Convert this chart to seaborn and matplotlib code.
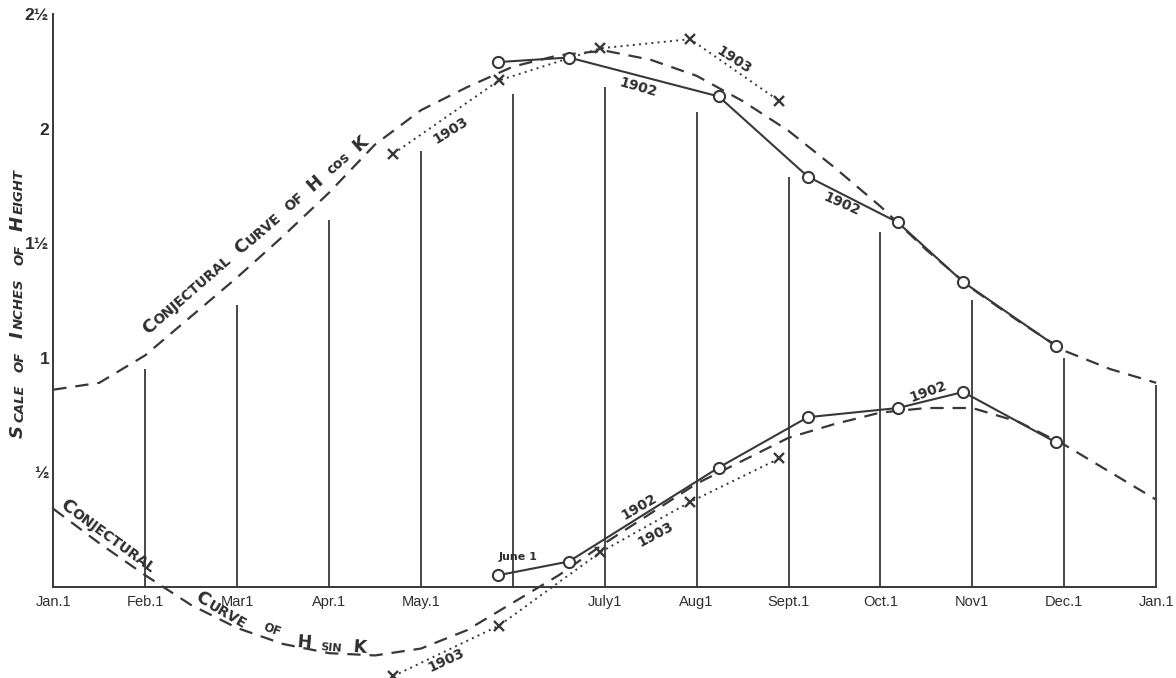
import numpy as np
import pandas as pd
import matplotlib
matplotlib.use("Agg")
import matplotlib.pyplot as plt
import seaborn as sns
from matplotlib.transforms import offset_copy

# ---- month axis -------------------------------------------------------
month_pos = list(range(13))
month_labels = ["Jan.1", "Feb.1", "Mar1", "Apr.1", "May.1", "", "July1",
                "Aug1", "Sept.1", "Oct.1", "Nov1", "Dec.1", "Jan.1"]
# heights of the ruled month verticals (Feb.1 ... following Jan.1)
rule_pos = list(range(1, 13))
rule_tops = [0.95, 1.23, 1.60, 1.90, 2.15, 2.18, 2.07, 1.79, 1.55, 1.25, 1.00, 0.88]

# ---- conjectural curves, read every half month -----------------------
curve_t = [i / 2 for i in range(25)]
h_cos_k = [0.86, 0.89, 1.01, 1.18, 1.35, 1.53, 1.72, 1.93, 2.08, 2.18, 2.27, 2.32,
           2.34, 2.30, 2.23, 2.12, 1.99, 1.83, 1.66, 1.47, 1.30, 1.16, 1.03, 0.95, 0.89]
h_sin_k = [0.34, 0.19, 0.05, -0.08, -0.18, -0.25, -0.29, -0.30, -0.27, -0.19, -0.07, 0.05,
           0.19, 0.32, 0.45, 0.55, 0.65, 0.71, 0.76, 0.78, 0.78, 0.72, 0.62, 0.50, 0.38]

# ---- observed values ---------------------------------------------------
obs_1902_t = [4.84, 5.61, 7.24, 8.21, 9.19, 9.90, 10.91]
cos_1902 = [2.29, 2.31, 2.14, 1.79, 1.59, 1.33, 1.05]
sin_1902 = [0.05, 0.11, 0.52, 0.74, 0.78, 0.85, 0.63]

obs_1903_t = [3.70, 4.85, 5.95, 6.93, 7.90]
cos_1903 = [1.89, 2.21, 2.35, 2.39, 2.12]
sin_1903 = [-0.39, -0.17, 0.15, 0.37, 0.56]

y_ticks = [0.5, 1.0, 1.5, 2.0, 2.5]
y_ticklabels = ["½", "1", "1½", "2", "2½"]

INK = "#383838"
TEXT = "#2e2e2e"

sns.set_theme(style="white")
plt.rcParams["font.family"] = ["DejaVu Sans"]

fig = plt.figure(figsize=(11.76, 6.78), dpi=100)
ax = fig.add_axes([0, 0, 1, 1])
ax.set_xlim(-0.58, 12.216)
ax.set_ylim(-0.3985, 2.561)

# month verticals
ax.vlines(rule_pos, 0, rule_tops, color=INK, lw=1.3, zorder=1)

# conjectural curves (long dashes)
curves = pd.DataFrame({"t": curve_t, "cos": h_cos_k, "sin": h_sin_k})
for col in ["cos", "sin"]:
    sns.lineplot(data=curves, x="t", y=col, ax=ax, color=INK, lw=1.6,
                 linestyle=(0, (6, 4)), sort=False, estimator=None, zorder=2)

# 1902: solid with open circles
d1902 = pd.DataFrame({"t": obs_1902_t, "cos": cos_1902, "sin": sin_1902})
for col in ["cos", "sin"]:
    sns.lineplot(data=d1902, x="t", y=col, ax=ax, color=INK, lw=1.5,
                 marker="o", markersize=8, markerfacecolor="white",
                 markeredgecolor=INK, markeredgewidth=1.5,
                 sort=False, estimator=None, zorder=4)

# 1903: dotted with crosses
d1903 = pd.DataFrame({"t": obs_1903_t, "cos": cos_1903, "sin": sin_1903})
for col in ["cos", "sin"]:
    sns.lineplot(data=d1903, x="t", y=col, ax=ax, color=INK, lw=1.4,
                 linestyle=(0, (1, 2.2)), marker="x", markersize=6.5,
                 markeredgewidth=1.7, markeredgecolor=INK,
                 sort=False, estimator=None, zorder=3)

# axes frame: spines meet at Jan.1 / zero
for side in ["top", "right"]:
    ax.spines[side].set_visible(False)
ax.spines["left"].set_position(("data", 0))
ax.spines["bottom"].set_position(("data", 0))
ax.spines["left"].set_bounds(0, 2.5)
ax.spines["bottom"].set_bounds(0, 12)
for side in ["left", "bottom"]:
    ax.spines[side].set_color(INK)
    ax.spines[side].set_linewidth(1.4)

ax.set_xticks(month_pos, month_labels)
ax.set_yticks(y_ticks, y_ticklabels)
ax.tick_params(axis="x", length=0, pad=6, labelsize=10.5, labelcolor=TEXT)
ax.tick_params(axis="y", direction="in", length=4, width=1.2, color=INK,
               pad=3, labelsize=12.5, labelcolor=TEXT)
for lab in ax.get_yticklabels():
    lab.set_fontweight("bold")
    lab.set_family("Liberation Sans")
for lab in ax.get_xticklabels():
    lab.set_family("Liberation Sans")
ax.set_xlabel("")
ax.set_ylabel("")

# year labels along the traces
year_labels = [
    ("1903", 4.32, 1.99, 32), ("1903", 7.40, 2.30, -33),
    ("1902", 6.36, 2.18, -16), ("1902", 8.58, 1.67, -24),
    ("1902", 9.52, 0.85, 20), ("1902", 6.38, 0.35, 30),
    ("1903", 6.55, 0.23, 28), ("1903", 4.28, -0.32, 25),
]
for s, x, y, r in year_labels:
    ax.text(x, y, s, rotation=r, rotation_mode="anchor", ha="center",
            va="center", fontsize=10, fontweight="bold", color=TEXT, zorder=5)
ax.text(5.06, 0.13, "June 1", ha="center", va="center", fontsize=8,
        fontweight="bold", color=TEXT)


# small-capital lettering laid out along a direction
fig.canvas.draw()
renderer = fig.canvas.get_renderer()


def small_caps(pieces, big, small):
    out = []
    for w_i, word in enumerate(pieces.split(" ")):
        if w_i:
            out.append((" ", big))
        if word.startswith("~"):
            out.append((word[1:], small))
            continue
        i = 0
        while i < len(word):
            j = i
            if word[i].isupper():
                out.append((word[i], big))
                i += 1
                continue
            while j < len(word) and not word[j].isupper():
                j += 1
            out.append((word[i:j].upper(), small))
            i = j
    return out


def lay_text(x, y, pieces, angle, transform, weight="bold", style="normal",
             family="DejaVu Sans", track=1.0, gap=0.42):
    rad = np.deg2rad(angle)
    dist = 0.0
    for s, size in pieces:
        if s == " ":
            dist += size * gap * fig.dpi / 72
            continue
        tr = offset_copy(transform, fig=fig, x=dist * np.cos(rad),
                         y=dist * np.sin(rad), units="dots")
        ax.text(x, y, s, transform=tr, rotation=angle, rotation_mode="anchor",
                ha="left", va="baseline", fontsize=size, fontweight=weight,
                fontstyle=style, family=family, color=TEXT, zorder=5)
        probe = ax.text(0, 0, s, fontsize=size, fontweight=weight,
                        fontstyle=style, family=family)
        dist += probe.get_window_extent(renderer).width + track
        probe.remove()


lay_text(0.0196, 0.354, small_caps("Scale of Inches of Height", 13, 9.5), 90,
         ax.transAxes, style="italic", track=2.5, gap=0.6)
lay_text(1.03, 1.10, small_caps("Conjectural Curve of H ~cos K", 13, 9.8), 41,
         ax.transData, track=1.0, gap=0.5)
lay_text(0.06, 0.35, small_caps("Conjectural", 13, 10), -36,
         ax.transData, track=1.2)
lay_text(1.53, -0.06, small_caps("Curve", 13, 10), -30,
         ax.transData, track=1.2)
lay_text(2.28, -0.19, small_caps("of", 12, 8.5), -20,
         ax.transData, track=1.0)
lay_text(2.64, -0.265, small_caps("H sin K", 12.5, 8), -5,
         ax.transData, track=1.5, gap=0.5)

fig.savefig("out.png", dpi=100, facecolor="white")
